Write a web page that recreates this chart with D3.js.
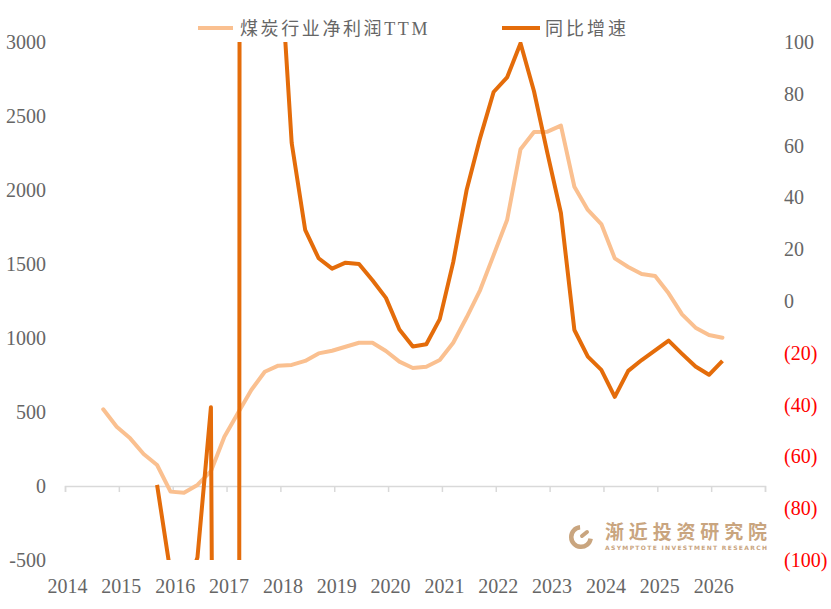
<!DOCTYPE html>
<html>
<head>
<meta charset="utf-8">
<script src="https://cdn.jsdelivr.net/npm/d3@7/dist/d3.min.js"></script>
<style>
  body { margin: 0; background: #fff; }
  text { font-family: "Liberation Serif", "Noto Sans CJK SC", serif; }
</style>
</head>
<body>
<div id="root"></div>
<script>

const quarters = [
  "2014Q3", "2014Q4",
  "2015Q1", "2015Q2", "2015Q3", "2015Q4",
  "2016Q1", "2016Q2", "2016Q3", "2016Q4",
  "2017Q1", "2017Q2", "2017Q3", "2017Q4",
  "2018Q1", "2018Q2", "2018Q3", "2018Q4",
  "2019Q1", "2019Q2", "2019Q3", "2019Q4",
  "2020Q1", "2020Q2", "2020Q3", "2020Q4",
  "2021Q1", "2021Q2", "2021Q3", "2021Q4",
  "2022Q1", "2022Q2", "2022Q3", "2022Q4",
  "2023Q1", "2023Q2", "2023Q3", "2023Q4",
  "2024Q1", "2024Q2", "2024Q3", "2024Q4",
  "2025Q1", "2025Q2", "2025Q3", "2025Q4",
  "2026Q1"
];

// 煤炭行业净利润TTM (left axis)
const profitTTM = [
  518, 401,
  322, 216, 142, -38,
  -45, 7, 100, 333,
  491, 649, 772, 813,
  818, 845, 896, 914,
  941, 968, 968, 912,
  840, 797, 806, 851,
  968, 1140, 1324, 1560,
  1797, 2276, 2392, 2394,
  2435, 2022, 1865, 1770,
  1538, 1480, 1432, 1419,
  1302, 1160, 1070, 1020,
  1002
];

// 同比增速 % (right axis), goes far off the chart in 2016-2017
const yoyGrowth = [
  null, null,
  null, null, -71, -105,
  -114, -99, -41, -977,
  -1190, 9170, 615, 144,
  61, 27.5, 16.5, 12.5,
  14.8, 14.3, 8, 1.2,
  -11, -17.6, -16.7, -7,
  15, 43, 63, 80.7,
  86.3, 99.5, 81, 57,
  34, -11.2, -21.5, -26.6,
  -37, -27, -22.8, -19.1,
  -15.3, -20.4, -25.3, -28.5,
  -23.1
];

const years = [2014, 2015, 2016, 2017, 2018, 2019, 2020, 2021, 2022, 2023, 2024, 2025, 2026, 2027];
const leftTicks = [-500, 0, 500, 1000, 1500, 2000, 2500, 3000];
const rightTicks = [-100, -80, -60, -40, -20, 0, 20, 40, 60, 80, 100];
const seriesNames = ["煤炭行业净利润TTM", "同比增速"];

const width = 831;
const height = 609;
const lightColor = "#FAC090";
const darkColor = "#E46C0A";
const textColor = "#666666";

const svg = d3.select("#root")
  .append("svg")
    .attr("width", width)
    .attr("height", height);

const x = d3.scaleLinear().domain([2014, 2027]).range([65, 765]);
const yLeft = d3.scaleLinear().domain([-500, 3000]).range([560, 42]);
const yRight = d3.scaleLinear().domain([-100, 100]).range([560, 42]);

// quarter label -> fractional year on the date axis
const qTime = q => +q.slice(0, 4) + +q.slice(5) * 0.25 - 0.04;

// left axis
const leftAxis = svg.append("g")
    .attr("transform", `translate(${x.range()[0]},0)`)
    .call(d3.axisLeft(yLeft).tickValues(leftTicks).tickSize(0).tickPadding(19).tickFormat(d => `${d}`));
leftAxis.select(".domain").remove();
leftAxis.selectAll("text")
    .attr("fill", textColor)
    .style("font-size", "20px");

// right axis
const rightAxis = svg.append("g")
    .attr("transform", `translate(${x.range()[1]},0)`)
    .call(d3.axisRight(yRight).tickValues(rightTicks).tickSize(0).tickPadding(19)
      .tickFormat(d => d < 0 ? `(${-d})` : `${d}`));
rightAxis.select(".domain").remove();
rightAxis.selectAll("text")
    .attr("fill", d => d < 0 ? "#FF0000" : textColor)
    .style("font-size", "20px");

// bottom axis sits on the left zero line
const bottomAxis = svg.append("g")
    .attr("transform", `translate(0,${yLeft(0)})`)
    .call(d3.axisBottom(x).tickValues(years).tickSize(6).tickPadding(87)
      .tickFormat(d => d < 2027 ? d : ""));
bottomAxis.selectAll(".domain, line")
    .attr("stroke", "#D9D9D9")
    .attr("stroke-width", 1.5);
bottomAxis.selectAll("text")
    .attr("fill", textColor)
    .attr("dx", 2)
    .style("font-size", "20px");

svg.append("clipPath")
    .attr("id", "plot-clip")
  .append("rect")
    .attr("x", 0)
    .attr("y", yRight(100))
    .attr("width", width)
    .attr("height", yRight(-100) - yRight(100));

const plot = svg.append("g").attr("clip-path", "url(#plot-clip)");

const profitLine = d3.line()
    .x((d, i) => x(qTime(quarters[i])))
    .y(d => yLeft(d));

const yoyLine = d3.line()
    .defined(d => d != null)
    .x((d, i) => x(qTime(quarters[i])))
    .y(d => yRight(d));

plot.append("path")
    .datum(profitTTM)
    .attr("fill", "none")
    .attr("stroke", lightColor)
    .attr("stroke-width", 4)
    .attr("stroke-linejoin", "round")
    .attr("stroke-linecap", "round")
    .attr("d", profitLine);

plot.append("path")
    .datum(yoyGrowth)
    .attr("fill", "none")
    .attr("stroke", darkColor)
    .attr("stroke-width", 4)
    .attr("stroke-linejoin", "round")
    .attr("d", yoyLine);

// legend
const legend = svg.append("g")
  .selectAll("g")
    .data([
      { name: seriesNames[0], color: lightColor, x0: 198, x1: 233, tx: 240, ls: 2.6 },
      { name: seriesNames[1], color: darkColor, x0: 502, x1: 540, tx: 545, ls: 3 }
    ])
    .join("g");

legend.append("line")
    .attr("x1", d => d.x0)
    .attr("x2", d => d.x1)
    .attr("y1", 28)
    .attr("y2", 28)
    .attr("stroke", d => d.color)
    .attr("stroke-width", 4);

legend.append("text")
    .attr("x", d => d.tx)
    .attr("y", 35)
    .attr("fill", textColor)
    .style("font-size", "18px")
    .style("letter-spacing", d => `${d.ls}px`)
    .text(d => d.name);

// watermark
const tan = "#C9A57F";
const mark = svg.append("g").attr("transform", "translate(581,537)");
mark.append("path")
    .attr("fill", tan)
    .attr("d", d3.arc().innerRadius(7.5).outerRadius(12).startAngle(Math.PI * 0.55).endAngle(Math.PI * 1.97)());
mark.append("line")
    .attr("x1", 1).attr("y1", -1)
    .attr("x2", 6).attr("y2", -5)
    .attr("stroke", tan)
    .attr("stroke-width", 4)
    .attr("stroke-linecap", "round");

svg.append("text")
    .attr("x", 605)
    .attr("y", 539)
    .attr("fill", tan)
    .attr("textLength", 162)
    .attr("lengthAdjust", "spacing")
    .style("font-family", "'Noto Sans CJK SC'")
    .style("font-size", "19px")
    .style("font-weight", "bold")
    .text("渐近投资研究院");

svg.append("text")
    .attr("x", 605)
    .attr("y", 549.5)
    .attr("fill", tan)
    .attr("textLength", 162)
    .attr("lengthAdjust", "spacing")
    .style("font-family", "'DejaVu Sans'")
    .style("font-size", "6px")
    .style("font-weight", "bold")
    .text("ASYMPTOTE INVESTMENT RESEARCH");

</script>
</body>
</html>
